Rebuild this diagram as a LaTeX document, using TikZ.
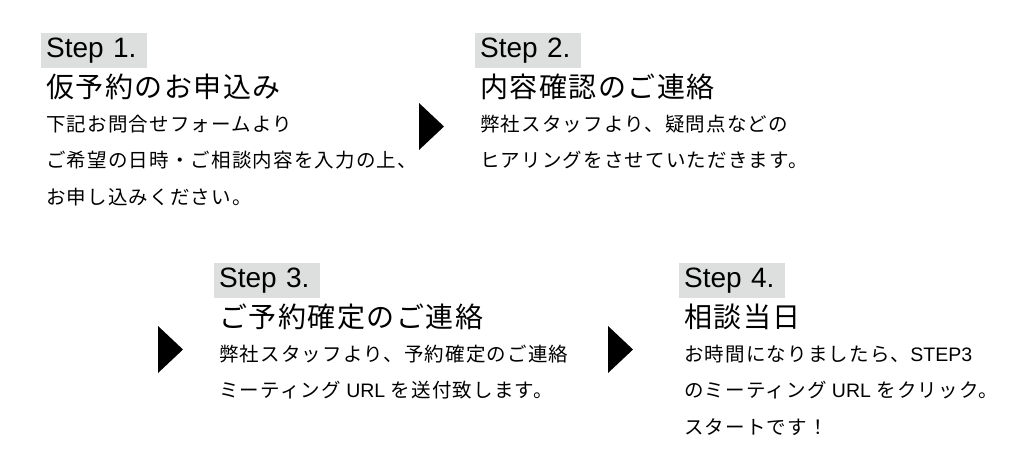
\documentclass[tikz,border=0pt]{standalone}
\usepackage{fontspec}
\setmainfont{Noto Sans CJK JP}
\newfontfamily\latinfont{Liberation Sans}
\newcommand\latin[1]{{\latinfont #1}}
\usetikzlibrary{positioning}
\definecolor{labelgray}{RGB}{221,222,222}
\tikzset{
  steplabel/.style={fill=labelgray, font=\latinfont\fontsize{28}{32}\selectfont, text width=96pt, align=left, inner xsep=5pt, inner ysep=0pt, minimum height=35pt},
  steptitle/.style={font=\fontsize{28}{32}\selectfont\addfontfeature{LetterSpace=5.5}, inner sep=0pt},
  steptext/.style={font=\fontsize{19.5}{22}\selectfont\addfontfeature{LetterSpace=6}, inner sep=0pt},
}
\begin{document}
\begin{tikzpicture}[x=1pt,y=-1pt]
\useasboundingbox (0,0) rectangle (1024,475);

\node [steplabel, anchor=north west] (s1) at (41,33) {Step 1.};
\node [steptitle, below right=29pt and 5pt of s1.south west, anchor=base west] (t1) {仮予約のお申込み};
\node [steptext, below=34pt of t1.base west, anchor=base west] (a1) {下記お問合せフォームより};
\node [steptext, below=36.5pt of a1.base west, anchor=base west] (b1) {ご希望の日時・ご相談内容を入力の上、};
\node [steptext, below=36.5pt of b1.base west, anchor=base west] (c1) {お申し込みください。};

\node [steplabel, anchor=north west] (s2) at (475,33) {Step 2.};
\node [steptitle, below right=29pt and 5pt of s2.south west, anchor=base west] (t2) {内容確認のご連絡};
\node [steptext, below=34pt of t2.base west, anchor=base west] (a2) {弊社スタッフより、疑問点などの};
\node [steptext, below=36.5pt of a2.base west, anchor=base west] (b2) {ヒアリングをさせていただきます。};

\node [steplabel, anchor=north west] (s3) at (214,263) {Step 3.};
\node [steptitle, below right=29pt and 5pt of s3.south west, anchor=base west] (t3) {ご予約確定のご連絡};
\node [steptext, below=34pt of t3.base west, anchor=base west] (a3) {弊社スタッフより、予約確定のご連絡};
\node [steptext, below=36.5pt of a3.base west, anchor=base west] (b3) {ミーティング\latin{ URL }を送付致します。};

\node [steplabel, anchor=north west] (s4) at (679,263) {Step 4.};
\node [steptitle, below right=29pt and 5pt of s4.south west, anchor=base west] (t4) {相談当日};
\node [steptext, below=34pt of t4.base west, anchor=base west] (a4) {お時間になりましたら、\latin{STEP3}};
\node [steptext, below=36.5pt of a4.base west, anchor=base west] (b4) {のミーティング\latin{ URL }をクリック。};
\node [steptext, below=36.5pt of b4.base west, anchor=base west] (c4) {スタートです！};

\foreach \x/\y in {419/103,158/326,608/326}
    \fill (\x,\y) -- ++(0,47) -- ++(25,-23.5) -- cycle;

\end{tikzpicture}
\end{document}
